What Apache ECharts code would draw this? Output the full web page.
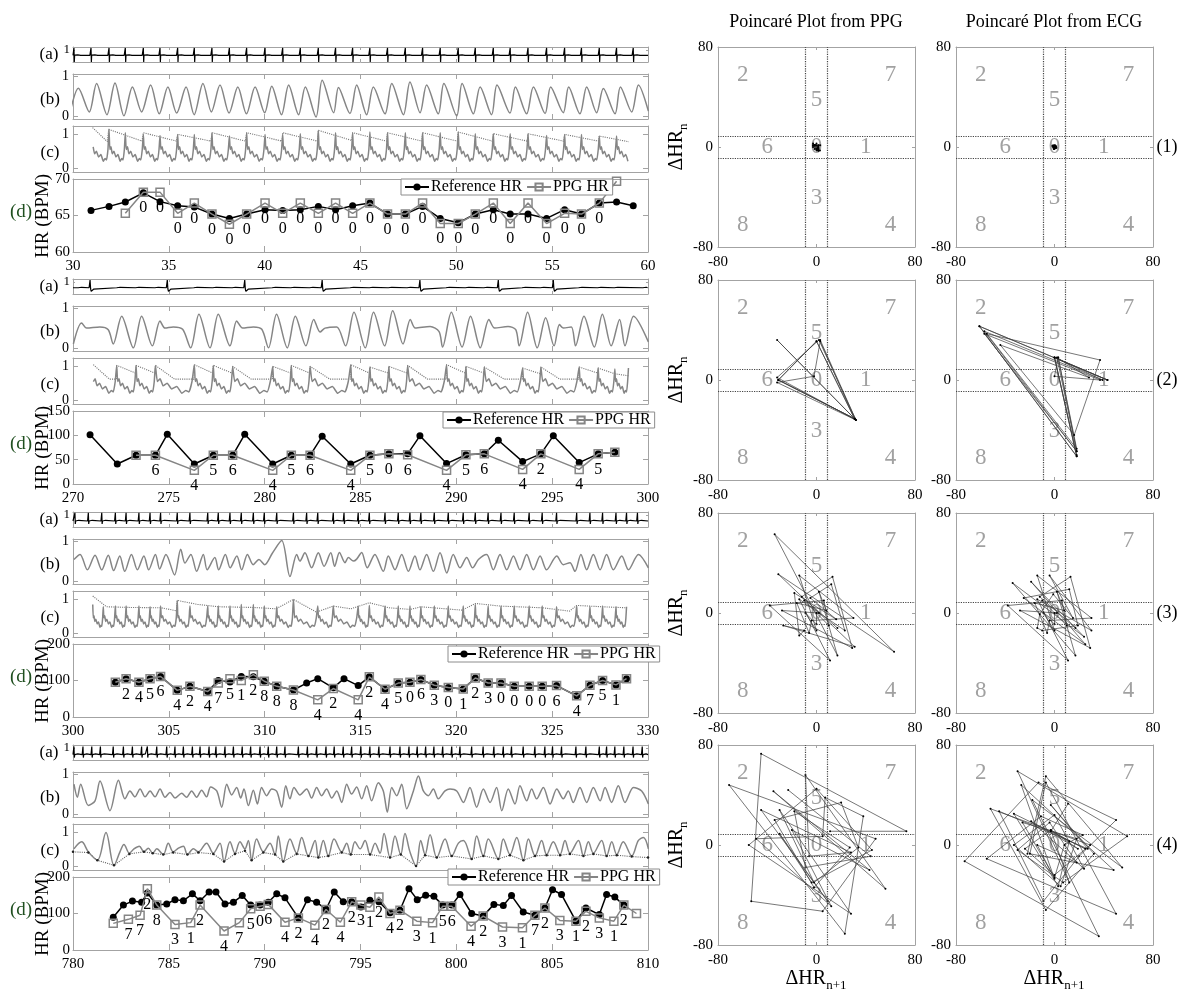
<!DOCTYPE html>
<html>
<head>
<meta charset="utf-8">
<script src="https://cdn.jsdelivr.net/npm/echarts@6/dist/echarts.min.js"></script>
<style>
html,body{margin:0;padding:0;background:#fff;}
#chart{width:1192px;height:997px;}
</style>
</head>
<body>
<div id="chart"></div>
<script>
// ================= DATA =================
const timeRanges = [[30, 60], [270, 300], [300, 330], [780, 810]];
const hrAxis = [[60, 70, 5], [0, 150, 50], [0, 200, 100], [0, 200, 100]];
const seriesNames = ['Reference HR', 'PPG HR'];
const poincareTitles = ['Poincaré Plot from PPG', 'Poincaré Plot from ECG'];
const rowLabels = ['(1)', '(2)', '(3)', '(4)'];
const panelLetters = ['(a)', '(b)', '(c)', '(d)'];

// ---- (d) heart rate, group 1 ----
const refT1 = [30.94,31.88,32.73,33.67,34.54,35.46,36.33,37.25,38.16,39.06,40.02,40.94,41.86,42.8,43.7,44.59,45.49,46.41,47.34,48.24,49.16,50.1,50.99,51.93,52.81,53.74,54.71,55.65,56.53,57.46,58.36,59.23];
const refHR1 = [65.7,66.25,66.85,68.1,66.9,66.35,66.15,65.2,64.6,65.2,65.8,65.7,65.8,66.25,65.8,66.35,66.7,65.2,65.2,66.25,64.6,64.0,65.2,65.8,65.2,65.2,64.6,65.8,65.2,66.7,66.85,66.35];
const ppgT1 = [32.73,33.67,34.54,35.46,36.33,37.25,38.16,39.06,40.02,40.94,41.86,42.8,43.7,44.59,45.49,46.41,47.34,48.24,49.16,50.1,50.99,51.93,52.81,53.74,54.71,55.65,56.53,57.46,58.36];
const ppgHR1 = [65.3,68.2,68.2,65.3,66.7,65.2,63.8,65.2,66.7,65.3,66.7,65.3,66.7,65.3,66.7,65.2,65.2,66.7,63.9,63.9,65.2,66.7,63.9,66.7,63.9,65.3,65.2,66.7,69.7];
const zones1 = ['','0','0','0','0','0','0','0','0','0','0','0','0','0','0','0','0','0','0','0','0','0','0','0','0','0','0','0',''];

// ---- group 2 ----
const refT2 = [270.89,272.31,273.29,274.3,274.92,276.33,277.32,278.33,278.96,280.42,281.39,282.37,283.0,284.49,285.49,286.48,287.46,288.1,289.49,290.5,291.46,292.19,293.46,294.41,295.06,296.41,297.4,298.27];
const refHR2 = [101,41,59,59,102,41,59,59,102,41,59,59,98,41,59,62,62,99,42,60,62,90,46,62,99,44,62,65];
const ppgT2 = [273.29,274.3,276.33,277.32,278.33,280.42,281.39,282.37,284.49,285.49,286.48,287.46,289.49,290.5,291.46,293.46,294.41,296.41,297.4,298.27];
const ppgHR2 = [59,59,28,59,59,28,59,59,28,59,62,60,28,60,62,30,62,30,62,65];
const zones2 = ['','6','4','5','6','4','5','6','4','5','0','6','4','5','6','4','2','4','5',''];

// ---- group 3 ----
const refT3 = [302.21,302.77,303.44,304.02,304.57,305.44,306.1,307.03,307.58,308.19,308.78,309.41,309.98,310.63,311.5,312.19,312.77,313.58,314.14,314.88,315.46,316.28,316.97,317.58,318.15,318.85,319.58,320.36,320.99,321.66,322.33,323.02,323.8,324.48,325.23,326.28,326.97,327.63,328.33,328.88];
const refHR3 = [95,105,95,105,111,73,84,70,100,96,111,110,98,84,74,93,105,80,105,86,110,76,93,95,103,87,81,77,107,93,93,84,84,84,86,58,87,100,88,105];
const ppgT3 = [302.21,302.77,303.44,304.02,304.57,305.44,306.1,307.03,307.58,308.19,308.78,309.41,309.98,310.63,311.5,312.77,313.58,314.88,315.46,316.28,316.97,317.58,318.15,318.85,319.58,320.36,320.99,321.66,322.33,323.02,323.8,324.48,325.23,326.28,326.97,327.63,328.33,328.88];
const ppgHR3 = [95,105,95,105,111,73,84,70,93,105,100,116,98,84,74,47,78,47,110,76,93,95,103,87,81,77,107,93,93,84,84,84,86,58,87,100,88,105];
const zones3 = ['','2','4','5','6','4','2','4','7','5','1','2','8','8','8','4','2','4','2','4','5','0','6','3','0','1','2','3','0','0','0','0','6','4','7','5','1',''];

// ---- group 4 ----
const refT4 = [782.1,782.63,783.1,783.58,783.88,784.37,784.89,785.32,785.76,786.23,786.63,787.1,787.46,787.93,788.37,788.83,789.27,789.76,790.19,790.63,791.06,791.76,792.23,792.71,793.2,793.63,794.1,794.54,795.02,795.49,795.96,796.54,797.06,797.53,797.96,798.4,798.83,799.29,799.76,800.19,800.8,801.4,801.96,802.45,802.88,803.49,804.1,804.62,805.02,805.49,806.24,806.76,807.46,807.84,808.27,808.74];
const refHR4 = [90,123,134,131,156,123,126,138,135,154,135,159,159,126,131,149,123,123,131,154,143,88,138,131,111,159,132,132,118,136,132,102,109,168,138,150,147,123,123,152,100,93,125,122,149,104,95,115,165,152,79,115,97,152,145,123];
const ppgT4 = [782.1,782.89,783.5,783.88,784.37,785.32,786.14,786.63,787.88,788.68,789.27,789.76,790.19,791.06,791.76,792.62,793.2,793.95,794.54,795.02,795.49,795.96,796.54,797.06,797.94,798.76,799.29,799.76,800.77,801.4,802.41,803.45,804.1,804.62,805.4,806.24,806.76,807.46,808.22,808.74,809.4];
const ppgHR4 = [73,84,95,168,123,70,75,123,52,75,113,120,125,76,88,68,111,76,132,123,117,145,100,109,79,75,120,120,65,93,63,61,95,115,81,79,106,88,79,123,100];
const zones4 = ['','7','7','2','8','3','1','2','4','7','5','0','6','4','2','4','2','4','2','3','1','2','4','2','3','1','5','6','4','2','3','1','7','2','3','1','2','3','1','2',''];

// ---- (a) ECG: extra beat times (besides the reference HR beats) and beat shapes ----
const ecgExtra1 = [30.05];
const ecgBig2 = [270.89,274.92,278.96,283.0,288.1,292.19,295.06];
const ecgSmall2 = [270.3,272.31,273.29,274.3,276.33,277.32,278.33,280.42,281.39,282.37,284.49,285.49,286.48,287.46,289.49,290.5,291.46,293.46,294.41,296.41,297.4,298.27,299.76];
const ecgExtra3 = [300.1,300.8,301.5,329.45];
const ecgExtra4 = [780.05,780.52,780.98,781.43,809.22,809.7];
const ecgBase = [0.55, 0.52, 0.5, 0.45];
const ecgShapeA = [[-0.06,0],[-0.03,0.03],[-0.012,0],[0,0.62],[0.018,-0.55],[0.035,0.02],[0.06,0],[0.2,0.05],[0.28,0.08],[0.35,0]];
const ecgShapeBig = [[-0.05,0],[-0.02,0.05],[0,0.64],[0.03,-0.1],[0.06,-0.3],[0.12,-0.32],[0.18,-0.12],[0.25,0]];
const ecgShapeSmall = [[-0.03,0],[-0.01,0.1],[0.01,-0.12],[0.03,0.02],[0.05,0],[0.15,0.04],[0.22,0]];
const ecgShapeC = [[-0.04,0],[-0.015,-0.04],[0,0.68],[0.02,-0.25],[0.04,0],[0.14,0.04],[0.2,0.06],[0.26,0]];

// ---- (b) PPG waveform turning points [t, value] ----
const ppgWave1 = [[29.9,0.2],[30.28,0.7],[30.85,0.1],[31.23,0.82],[31.77,0.03],[32.19,0.83],[32.66,0.0],[33.1,0.73],[33.58,0.1],[34.05,0.78],[34.5,0.05],[34.95,0.73],[35.41,0.07],[35.9,0.73],[36.32,0.03],[36.78,0.82],[37.22,0.1],[37.67,0.78],[38.14,0.07],[38.6,0.73],[39.05,0.05],[39.5,0.73],[40.0,0.08],[40.37,0.75],[40.88,0.03],[41.25,0.78],[41.77,0.03],[42.12,0.73],[42.68,-0.03],[43.0,0.9],[43.6,0.08],[43.85,0.72],[44.45,0.06],[44.8,0.78],[45.32,0.03],[45.67,0.73],[46.28,0.05],[46.63,0.82],[47.24,0.03],[47.58,0.86],[48.11,0.08],[48.45,0.78],[49.06,0.05],[49.35,0.82],[50.02,0.0],[50.3,0.82],[50.89,0.05],[51.24,0.73],[51.84,0.03],[52.12,0.78],[52.8,0.07],[53.08,0.73],[53.67,0.05],[54.02,0.73],[54.63,0.06],[54.92,0.73],[55.58,0.08],[55.86,0.73],[56.45,0.05],[56.8,0.73],[57.32,0.08],[57.67,0.69],[58.28,0.05],[58.56,0.73],[59.15,0.1],[59.5,0.78],[60.02,0.12]];
const ppgWave2 = [[270.02,0.1],[270.45,0.63],[270.71,0.5],[271.4,0.53],[271.84,0.46],[272.1,0.1],[272.54,0.8],[273.15,0.0],[273.58,0.8],[274.14,0.05],[274.54,0.68],[274.8,0.5],[275.23,0.53],[275.72,0.47],[276.14,0.0],[276.57,0.85],[277.15,0.0],[277.58,0.85],[278.19,0.05],[278.54,0.68],[278.85,0.5],[279.41,0.53],[279.85,0.47],[280.2,0.0],[280.62,0.85],[281.18,0.0],[281.6,0.8],[282.15,0.05],[282.56,0.72],[282.89,0.4],[283.15,0.5],[283.76,0.53],[284.22,0.05],[284.66,0.9],[285.25,0.0],[285.68,0.9],[286.26,0.05],[286.68,0.94],[287.22,0.1],[287.6,0.72],[287.86,0.5],[288.63,0.54],[289.1,0.41],[289.28,0.02],[289.74,0.9],[290.3,0.02],[290.74,0.8],[291.25,0.0],[291.7,0.72],[292.0,0.5],[292.7,0.54],[293.1,0.46],[293.28,0.05],[293.72,0.9],[294.22,0.0],[294.66,0.76],[295.1,0.05],[295.38,0.59],[295.58,0.5],[296.0,0.53],[296.22,0.05],[296.66,0.8],[297.2,0.02],[297.62,0.85],[298.08,0.05],[298.52,0.72],[298.8,0.05],[299.25,0.8],[300.02,0.15]];
const ppgWave3 = [[300.05,0.54],[300.37,0.67],[300.75,0.28],[301.15,0.65],[301.5,0.28],[301.84,0.65],[302.12,0.26],[302.44,0.63],[302.7,0.24],[303.05,0.67],[303.36,0.28],[303.7,0.63],[303.95,0.28],[304.3,0.67],[304.52,0.3],[304.85,0.67],[305.3,0.15],[305.62,0.8],[305.84,0.45],[306.15,0.67],[306.45,0.24],[306.8,0.67],[307.0,0.28],[307.4,0.59],[307.6,0.28],[307.95,0.67],[308.2,0.33],[308.55,0.63],[308.8,0.28],[309.1,0.67],[309.4,0.41],[309.7,0.54],[310.0,0.41],[310.4,0.7],[310.89,1.02],[311.32,0.11],[311.67,0.67],[311.84,0.5],[312.1,0.71],[312.45,0.33],[312.8,0.71],[313.1,0.37],[313.45,0.71],[313.65,0.37],[313.9,0.72],[314.19,0.46],[314.37,0.59],[314.63,0.5],[314.8,0.55],[315.06,0.72],[315.35,0.33],[315.75,0.67],[316.19,0.24],[316.45,0.63],[316.8,0.28],[317.15,0.67],[317.5,0.24],[317.84,0.63],[318.1,0.28],[318.45,0.67],[318.8,0.24],[319.15,0.71],[319.5,0.2],[319.84,0.67],[320.19,0.33],[320.54,0.59],[320.85,0.33],[321.15,0.54],[321.58,0.67],[321.93,0.28],[322.28,0.67],[322.63,0.28],[322.98,0.63],[323.32,0.28],[323.67,0.67],[324.02,0.28],[324.37,0.63],[324.71,0.28],[325.24,0.63],[325.58,0.41],[325.93,0.46],[326.19,0.24],[326.5,0.67],[326.8,0.28],[327.15,0.67],[327.5,0.28],[327.84,0.67],[328.19,0.28],[328.63,0.63],[328.98,0.28],[329.5,0.67],[330.02,0.33]];
const ppgWave4 = [[780.05,0.75],[780.23,0.42],[780.4,0.75],[780.8,0.21],[781.15,0.33],[781.41,0.83],[781.93,0.08],[782.37,0.85],[782.71,0.38],[782.97,0.58],[783.23,0.43],[783.5,0.63],[783.76,0.43],[784.02,0.58],[784.28,0.43],[784.54,0.63],[784.8,0.42],[785.06,0.54],[785.32,0.4],[785.67,0.52],[785.93,0.42],[786.19,0.58],[786.45,0.42],[786.71,0.6],[786.97,0.43],[787.18,0.68],[787.5,0.58],[787.76,0.17],[788.02,0.75],[788.28,0.48],[788.54,0.67],[788.75,0.4],[788.92,0.63],[789.15,0.21],[789.41,0.6],[789.62,0.25],[789.84,0.67],[790.1,0.46],[790.37,0.63],[790.63,0.57],[790.89,0.17],[791.1,0.71],[791.32,0.38],[791.53,0.67],[791.84,0.48],[792.19,0.63],[792.45,0.4],[792.71,0.67],[792.97,0.46],[793.23,0.63],[793.5,0.4],[793.76,0.58],[794.02,0.29],[794.28,0.75],[794.54,0.5],[794.8,0.68],[795.06,0.38],[795.32,0.71],[795.58,0.33],[795.93,0.79],[796.19,0.58],[796.4,0.04],[796.63,0.67],[796.89,0.46],[797.15,0.75],[797.41,0.13],[797.76,0.58],[798.02,0.96],[798.28,0.58],[798.54,0.46],[798.8,0.63],[799.06,0.38],[799.41,0.58],[799.67,0.63],[800.02,0.58],[800.37,0.29],[800.71,0.67],[801.06,0.17],[801.41,0.63],[801.76,0.29],[802.1,0.67],[802.37,0.08],[802.71,0.63],[803.06,0.25],[803.32,0.71],[803.67,0.33],[803.93,0.63],[804.19,0.38],[804.54,0.67],[804.89,0.25],[805.24,0.63],[805.58,0.38],[805.84,0.58],[806.1,0.29],[806.45,0.67],[806.8,0.29],[807.15,0.67],[807.5,0.33],[807.76,0.67],[808.1,0.29],[808.45,0.71],[808.8,0.29],[809.24,0.67],[809.67,0.58],[810.02,0.25]];

// ---- (c) processed PPG: peak times / peak values and the shape between peaks ----
const cPeakT1 = refT1;
const cPeakV1 = [1.1,1.15,1.05,1.0,0.97,1.0,1.0,1.05,0.95,1.05,1.0,1.0,1.02,1.12,1.05,1.05,1.07,1.05,1.05,1.05,1.05,1.07,1.02,1.02,1.02,1.02,0.97,1.0,1.0,0.95,0.95,0.9];
const cSpan1 = [31.0, 59.0];
const cPeakT2 = [271.0,272.28,273.29,274.3,276.33,277.32,278.33,280.42,281.39,282.37,284.49,285.49,286.48,287.46,289.49,290.5,291.46,293.46,294.41,296.41,297.4,298.27,298.98];
const cPeakV2 = [0.5,1.03,1.03,1.03,1.05,1.03,1.0,1.0,1.03,1.0,1.05,0.98,1.0,1.03,1.05,1.0,0.98,0.95,0.98,0.98,0.95,0.92,0.95];
const cSpan2 = [271.06, 298.98];
const cPeakT3 = [301.03,301.58,302.21,302.77,303.44,304.02,304.57,305.44,306.1,307.03,307.58,308.19,308.78,309.41,309.98,310.63,311.5,312.77,313.58,314.88,315.46,316.28,316.97,317.58,318.15,318.85,319.58,320.36,320.99,321.66,322.33,323.02,323.8,324.48,325.23,326.28,326.97,327.63,328.33,328.88];
const cPeakV3 = [0.85,0.78,0.8,0.8,0.8,0.78,0.8,0.97,0.8,0.8,0.8,0.8,0.85,0.85,0.8,0.78,1.0,0.8,0.8,0.8,0.82,0.8,0.8,0.8,0.78,0.8,0.8,0.8,0.85,0.8,0.8,0.8,0.8,0.8,0.78,0.8,0.78,0.8,0.78,0.78];
const cSpan3 = [301.03, 328.9];
const cShape = [[0.05,0.55],[0.12,0.63],[0.2,0.42],[0.3,0.5],[0.42,0.33],[0.55,0.4],[0.68,0.2],[0.78,0.28],[0.86,0.24],[0.94,0.55]];
const cScale = [1.0, 1.0, 0.82];
const cWave4 = [[780.05,0.51],[780.45,0.72],[780.8,0.42],[781.27,0.17],[781.72,1.0],[782.14,0.02],[782.45,0.42],[782.66,0.64],[782.94,0.38],[783.18,0.51],[783.46,0.59],[783.7,0.42],[783.93,0.53],[784.16,0.38],[784.37,0.51],[784.71,0.34],[784.97,0.68],[785.23,0.42],[785.5,0.53],[785.76,0.59],[785.97,0.34],[786.28,0.51],[786.54,0.42],[786.97,0.68],[787.32,0.38],[787.67,0.68],[787.88,0.13],[788.19,0.72],[788.45,0.38],[788.71,0.72],[788.97,0.51],[789.15,0.76],[789.32,0.17],[789.58,0.8],[789.93,0.42],[790.28,0.68],[790.54,0.34],[790.71,0.89],[790.97,0.13],[791.32,0.8],[791.67,0.38],[791.93,0.85],[792.28,0.3],[792.63,0.76],[792.8,0.25],[793.06,0.76],[793.32,0.3],[793.62,0.8],[794.02,0.42],[794.28,0.68],[794.49,0.34],[794.71,0.72],[794.98,0.51],[795.24,0.76],[795.5,0.34],[795.76,0.68],[796.02,0.38],[796.23,0.97],[796.54,0.25],[796.8,0.89],[797.1,0.34],[797.32,0.97],[797.58,0.42],[797.9,0.0],[798.14,0.76],[798.37,0.34],[798.63,0.93],[798.98,0.25],[799.41,0.8],[799.76,0.3],[800.11,0.68],[800.37,0.76],[800.8,0.21],[801.06,0.89],[801.41,0.3],[801.67,0.8],[802.19,0.21],[802.45,0.8],[802.8,0.34],[803.15,0.85],[803.5,0.17],[803.76,0.8],[804.11,0.3],[804.45,0.76],[804.71,0.34],[805.06,0.72],[805.41,0.34],[805.67,0.76],[805.93,0.38],[806.37,0.76],[806.63,0.3],[806.89,0.72],[807.15,0.38],[807.58,0.76],[807.84,0.3],[808.11,0.72],[808.37,0.34],[808.71,0.72],[809.15,0.3],[809.5,0.76],[809.76,0.85],[810.02,0.51]];

// ---- (c) dotted adaptive threshold / envelope [t, value] ----
const thr1 = [[31.02,1.2],[31.8,0.78],[31.86,1.15],[33.6,0.8],[33.67,1.05],[35.4,0.8],[35.46,1.0],[37.2,0.8],[37.25,1.05],[39.0,0.8],[39.06,1.05],[40.9,0.8],[40.94,1.05],[42.75,0.8],[42.8,1.12],[44.55,0.82],[44.59,1.05],[46.36,0.8],[46.41,1.05],[48.2,0.8],[48.24,1.05],[50.05,0.8],[50.1,1.07],[51.88,0.8],[51.93,1.02],[53.7,0.8],[53.74,1.02],[55.6,0.8],[55.65,1.0],[57.41,0.8],[57.46,0.95],[59.0,0.78]];
const thr2 = [[271.06,1.05],[271.9,0.62],[272.26,0.62],[272.28,1.03],[273.27,0.8],[273.29,1.03],[274.28,0.8],[274.3,1.03],[275.3,0.62],[276.31,0.62],[276.33,1.05],[277.3,0.8],[277.32,1.03],[278.31,0.8],[278.33,1.0],[279.3,0.62],[280.4,0.62],[280.42,1.0],[281.37,0.8],[281.39,1.03],[282.35,0.8],[282.37,1.0],[283.4,0.62],[284.47,0.62],[284.49,1.05],[285.47,0.8],[285.49,0.98],[286.46,0.8],[286.48,1.0],[287.44,0.8],[287.46,1.03],[288.5,0.62],[289.47,0.62],[289.49,1.05],[290.48,0.8],[290.5,1.0],[291.44,0.8],[291.46,0.98],[292.5,0.62],[293.44,0.62],[293.46,0.95],[294.39,0.78],[294.41,0.98],[295.4,0.62],[296.39,0.62],[296.41,0.98],[297.38,0.8],[297.4,0.95],[298.27,0.78],[298.98,0.72]];
const thr3 = [[301.03,1.1],[301.75,0.78],[303.0,0.76],[304.6,0.75],[305.4,0.66],[305.44,0.97],[306.5,0.85],[307.6,0.78],[309.4,0.76],[310.6,0.72],[311.5,1.0],[312.7,0.62],[313.58,0.8],[314.5,0.72],[315.46,0.9],[316.5,0.75],[317.6,0.7],[318.15,0.78],[320.3,0.68],[320.99,0.88],[322.3,0.8],[324.5,0.75],[325.9,0.65],[326.28,0.82],[327.63,0.78],[328.9,0.75]];
const thr4 = [[780.0,0.42],[780.8,0.4],[781.27,0.17],[782.14,0.02],[782.94,0.36],[783.7,0.42],[784.16,0.38],[784.71,0.34],[785.23,0.4],[785.97,0.34],[786.54,0.4],[787.32,0.36],[787.88,0.13],[788.45,0.36],[788.97,0.45],[789.32,0.17],[789.93,0.4],[790.54,0.34],[790.97,0.13],[791.67,0.36],[792.28,0.3],[792.8,0.25],[793.32,0.3],[794.02,0.4],[794.49,0.34],[795.5,0.34],[796.54,0.25],[797.1,0.34],[797.9,0.0],[798.37,0.32],[798.98,0.25],[799.76,0.3],[800.8,0.21],[801.41,0.3],[802.19,0.21],[802.8,0.32],[803.5,0.17],[804.11,0.3],[804.71,0.32],[805.41,0.32],[805.93,0.36],[806.63,0.3],[807.15,0.36],[807.84,0.3],[808.37,0.32],[809.15,0.28],[810.0,0.25]];

// ---- Poincaré zones ----
const zoneThreshold = 9;
const poincareLimit = 80;
const zoneNames = ['2','7','5','6','0','1','3','8','4'];
const zoneX = [-60,60,0,-40,0,40,0,-60,60];
const zoneY = [58,58,38,0,0,0,-41,-62,-62];

// ================= LAYOUT / STYLE =================
const FONT = "'Liberation Serif', 'Times New Roman', Times, 'DejaVu Serif', serif";
const BOX = '#a3a3a3';
const GROUP_TOP = [47, 279, 512, 745];
const LEFT_X = 73, LEFT_W = 575;
const PANEL = {a:[0,15], b:[27,45], c:[79,46], d:[132,73]};
const P_LEFT = [718, 956], P_TOP = [47, 280, 513, 745], P_SIZE = [197, 200];
const LEGEND_POS = [[401,179],[443,412],[448,646],[448,869]];

const grids = [], xAxes = [], yAxes = [], series = [], graphics = [], legends = [];

function makeGrid(left, top, width, height, xc, yc) {
  const gi = grids.length;
  grids.push({left, top, width, height, containLabel:false});
  const line = {show:true, onZero:false, lineStyle:{color:BOX, width:1}};
  const xt = {show:true, inside:true, length:xc.tick || 5, lineStyle:{color:BOX, width:1}};
  const xb = {type:'value', gridIndex:gi, min:xc.min, max:xc.max, interval:xc.interval,
    axisLine:line, axisTick:xt, splitLine:{show:false}, axisLabel:{show:false}};
  xAxes.push(Object.assign({}, xb, {position:'bottom',
    axisLabel:{show:!!xc.labels, color:'#000', fontFamily:FONT, fontSize:xc.fontSize || 15, margin:xc.margin || 6}}));
  xAxes.push(Object.assign({}, xb, {position:'top'}));
  const yt = {show:true, inside:true, length:yc.tick || 5, lineStyle:{color:BOX, width:1}};
  if (yc.custom) yt.customValues = yc.custom;
  const yl = {show:true, color:'#000', fontFamily:FONT, fontSize:yc.fontSize || 14, margin:yc.margin || 4};
  if (yc.custom) yl.customValues = yc.custom;
  const yb = {type:'value', gridIndex:gi, min:yc.min, max:yc.max, axisLine:line, axisTick:yt,
    splitLine:{show:false}, axisLabel:{show:false}};
  if (yc.interval) yb.interval = yc.interval;
  yAxes.push(Object.assign({}, yb, {position:'left', axisLabel:yl}));
  yAxes.push(Object.assign({}, yb, {position:'right'}));
  return gi;
}

function addLine(gi, data, opts) {
  series.push(Object.assign({type:'line', xAxisIndex:2*gi, yAxisIndex:2*gi, data,
    symbol:'none', showSymbol:false, silent:true, animation:false, clip:true}, opts));
}

function txt(x, y, text, size, extra, styleExtra) {
  graphics.push(Object.assign({type:'text', x, y, silent:true, z:100,
    style:Object.assign({text, fontSize:size, fontFamily:FONT, fill:'#000', align:'center', verticalAlign:'middle'}, styleExtra || {})}, extra || {}));
}

function zip(t, v) { return t.map((x, i) => [x, v[i]]); }

function buildEcg(beats, shapeOf, base, x0, x1) {
  const pts = [[x0, base]];
  beats.forEach((t, i) => {
    const shp = shapeOf(t);
    const next = beats[i + 1];
    const limit = next === undefined ? Infinity : next + shapeOf(next)[0][0] - 0.004;
    shp.forEach(([dt, dv]) => {
      const tt = t + dt;
      if (tt < limit && tt > x0 && tt < x1) pts.push([tt, base + dv]);
    });
  });
  pts.push([x1, base]);
  return pts;
}

function buildC(peakT, peakV, shape, scale, span) {
  const pts = [];
  for (let i = 0; i < peakT.length; i++) {
    pts.push([peakT[i], peakV[i]]);
    if (i < peakT.length - 1) {
      const d = peakT[i + 1] - peakT[i];
      shape.forEach(([f, l]) => pts.push([peakT[i] + f * d, l * scale]));
    }
  }
  return pts.filter(p => p[0] >= span[0] - 1e-6 && p[0] <= span[1] + 1e-6);
}

function poincare(hr) {
  const d = [];
  for (let i = 1; i < hr.length; i++) d.push(hr[i] - hr[i - 1]);
  const pts = [];
  for (let i = 0; i < d.length - 1; i++) pts.push([d[i + 1], d[i]]);
  return pts;
}

const refT = [refT1, refT2, refT3, refT4];
const refHR = [refHR1, refHR2, refHR3, refHR4];
const ppgT = [ppgT1, ppgT2, ppgT3, ppgT4];
const ppgHR = [ppgHR1, ppgHR2, ppgHR3, ppgHR4];
const zones = [zones1, zones2, zones3, zones4];
const ppgWaves = [ppgWave1, ppgWave2, ppgWave3, ppgWave4];
const thresholds = [thr1, thr2, thr3, thr4];

const ecgData = [
  buildEcg(ecgExtra1.concat(refT1).sort((a,b)=>a-b), () => ecgShapeA, ecgBase[0], 30, 60),
  buildEcg(ecgBig2.concat(ecgSmall2).sort((a,b)=>a-b), t => ecgBig2.includes(t) ? ecgShapeBig : ecgShapeSmall, ecgBase[1], 270, 300),
  buildEcg(ecgExtra3.concat(refT3).sort((a,b)=>a-b), () => ecgShapeC, ecgBase[2], 300, 330),
  buildEcg(ecgExtra4.concat(refT4).sort((a,b)=>a-b), () => ecgShapeC, ecgBase[3], 780, 810)
];
const cData = [
  buildC(cPeakT1, cPeakV1, cShape, cScale[0], cSpan1),
  buildC(cPeakT2, cPeakV2, cShape, cScale[1], cSpan2),
  buildC(cPeakT3, cPeakV3, cShape, cScale[2], cSpan3),
  cWave4
];

const GREY = '#858585';
const SUB_RICH = {a:{fontSize:20, fontFamily:FONT, lineHeight:26, verticalAlign:'middle'},
                  s:{fontSize:13, fontFamily:FONT, lineHeight:26, verticalAlign:'bottom'}};

for (let g = 0; g < 4; g++) {
  const top = GROUP_TOP[g];
  const [x0, x1] = timeRanges[g];
  // (a)
  let gi = makeGrid(LEFT_X, top + PANEL.a[0], LEFT_W, PANEL.a[1],
    {min:x0, max:x1, interval:5, tick:3}, {min:0, max:1.25, custom:[0,1], fontSize:13, tick:2, margin:3});
  addLine(gi, ecgData[g], {lineStyle:{color:'#000', width:1.2}});
  // (b)
  gi = makeGrid(LEFT_X, top + PANEL.b[0], LEFT_W, PANEL.b[1],
    {min:x0, max:x1, interval:5}, {min:-0.08, max:1.06, custom:[0,1]});
  addLine(gi, ppgWaves[g], {smooth:0.3, lineStyle:{color:GREY, width:1.5}});
  // (c)
  gi = makeGrid(LEFT_X, top + PANEL.c[0], LEFT_W, PANEL.c[1],
    {min:x0, max:x1, interval:5}, {min:-0.12, max:1.25, custom:[0,1]});
  addLine(gi, thresholds[g], g === 3
    ? {lineStyle:{color:'#666', width:1.1, type:'dotted'}, symbol:'circle', showSymbol:true, showAllSymbol:true, symbolSize:2.5, itemStyle:{color:'#222'}}
    : {lineStyle:{color:'#777', width:1.1, type:'dotted'}});
  addLine(gi, cData[g], {smooth: g === 3 ? 0.35 : 0.15, lineStyle:{color:GREY, width:1.5}});
  // (d)
  const [hmin, hmax, hint] = hrAxis[g];
  gi = makeGrid(LEFT_X, top + PANEL.d[0], LEFT_W, PANEL.d[1],
    {min:x0, max:x1, interval:5, labels:true, fontSize:15, margin:7, tick:6},
    {min:hmin, max:hmax, interval:hint, fontSize:15, margin:3});
  addLine(gi, zip(refT[g], refHR[g]), {name:seriesNames[0], symbol:'circle', symbolSize:7, showSymbol:true, showAllSymbol:true,
    lineStyle:{color:'#000', width:1.5}, itemStyle:{color:'#000'}, z:3});
  const zs = zones[g];
  addLine(gi, zip(ppgT[g], ppgHR[g]), {name:seriesNames[1], symbol:'rect', symbolSize:8, showSymbol:true, showAllSymbol:true,
    lineStyle:{color:GREY, width:1.5}, itemStyle:{color:'rgba(255,255,255,0)', borderColor:GREY, borderWidth:1.5}, z:4,
    label:{show:true, position:'bottom', distance:3, formatter:p => zs[p.dataIndex], fontFamily:FONT, fontSize:16, color:'#000'}});
  legends.push({left:LEGEND_POS[g][0], top:LEGEND_POS[g][1], orient:'horizontal', data:seriesNames.slice(),
    itemWidth:24, itemHeight:9, itemGap:4, padding:[0,4,0,3], borderColor:'#8c8c8c', borderWidth:1,
    backgroundColor:'#fff', selectedMode:false, z:20,
    textStyle:{fontFamily:FONT, fontSize:16, color:'#000', padding:[0,0,0,-3]}});
  // panel letters & axis name
  txt(49, top + 8, panelLetters[0], 17);
  txt(50, top + 53, panelLetters[1], 17);
  txt(50, top + 106, panelLetters[2], 17);
  txt(21, top + 165, panelLetters[3], 19, null, {fill:'#1f4f1f'});
  txt(43, top + 169, 'HR (BPM)', 19, {rotation:Math.PI/2});

  // Poincaré plots
  for (let col = 0; col < 2; col++) {
    const pg = makeGrid(P_LEFT[col], P_TOP[g], P_SIZE[0], P_SIZE[1],
      {min:-poincareLimit, max:poincareLimit, interval:80, labels:true, fontSize:15, margin:8, tick:3},
      {min:-poincareLimit, max:poincareLimit, interval:80, fontSize:15, margin:5, tick:3});
    series.push({type:'scatter', xAxisIndex:2*pg, yAxisIndex:2*pg, silent:true, animation:false, z:1,
      symbolSize:1, itemStyle:{color:'rgba(0,0,0,0)'},
      data: zoneNames.map((n, i) => ({name:n, value:[zoneX[i], zoneY[i]]})),
      label:{show:true, position:'inside', formatter:p => p.name, fontFamily:FONT, fontSize:23, color:'#8a8a8a'},
      markLine:{silent:true, symbol:'none', animation:false, label:{show:false},
        lineStyle:{color:'#444', width:1.2, type:'dotted'},
        data:[{xAxis:-zoneThreshold},{xAxis:zoneThreshold},{yAxis:-zoneThreshold},{yAxis:zoneThreshold}]}});
    const hr = col === 0 ? ppgHR[g] : refHR[g];
    addLine(pg, poincare(hr), {symbol:'circle', symbolSize:2, showSymbol:true, showAllSymbol:true,
      lineStyle:{color:'#3c3c3c', width:0.7}, itemStyle:{color:'#000'}, z:3});
  }
  const cy = P_TOP[g] + P_SIZE[1] / 2;
  txt(1167, cy, rowLabels[g], 18);
  txt(677, cy, '{a|ΔHR}{s|n}', 20, {rotation:Math.PI/2}, {rich:SUB_RICH});
}
txt(816, 22, poincareTitles[0], 18);
txt(1054, 22, poincareTitles[1], 18);
[816, 1054].forEach(x => txt(x, 979, '{a|ΔHR}{s|n+1}', 20, null, {rich:SUB_RICH}));

const chart = echarts.init(document.getElementById('chart'), null, {renderer:'canvas'});
chart.setOption({
  backgroundColor:'#fff',
  animation:false,
  textStyle:{fontFamily:FONT},
  grid:grids, xAxis:xAxes, yAxis:yAxes, series, legend:legends, graphic:graphics
});
</script>
</body>
</html>
